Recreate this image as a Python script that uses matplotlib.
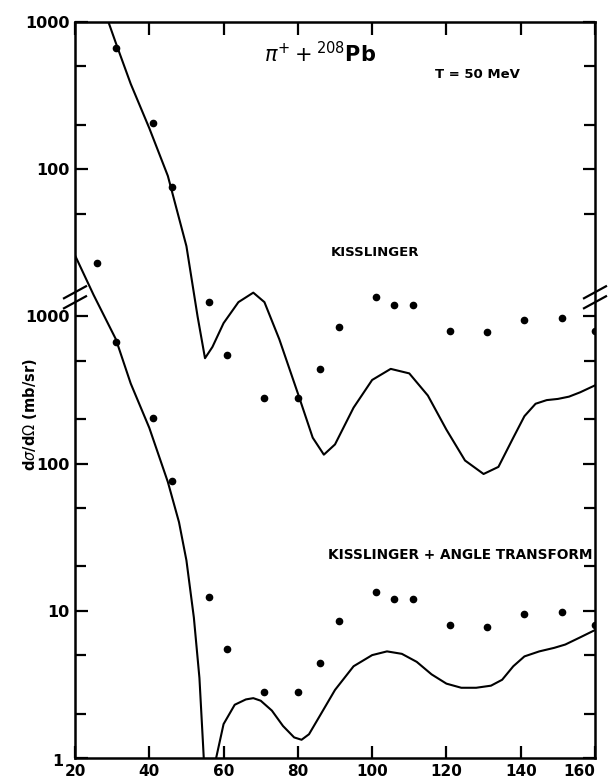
import matplotlib.pyplot as plt

# measured cross sections (mb/sr) - same points used in both panels
ang = [26, 31, 41, 46, 56, 61, 71, 80, 86, 91, 101, 106, 111, 121, 131, 141, 151, 160]
dsig = [2300, 670, 205, 76, 12.5, 5.5, 2.8, 2.8, 4.4, 8.5, 13.5, 12, 12, 8, 7.8, 9.5, 9.8, 8]

# Kisslinger curve (upper panel)
k_ang = [29, 31, 35, 40, 45, 50, 53, 55, 57, 60, 64, 68, 71, 75, 80, 84, 87, 90, 95, 100,
         105, 110, 115, 120, 125, 130, 134, 138, 141, 144, 147, 150, 153, 156, 160]
k_val = [1000, 720, 380, 190, 90, 30, 10, 5.2, 6.2, 9, 12.5, 14.5, 12.5, 7, 3, 1.5, 1.15, 1.35,
         2.4, 3.7, 4.4, 4.1, 2.9, 1.7, 1.05, 0.85, 0.95, 1.5, 2.1, 2.55, 2.7, 2.75, 2.85, 3.05, 3.4]

# Kisslinger + angle transform (lower panel)
kt_ang = [20, 25, 31, 35, 40, 45, 48, 50, 52, 53.5, 54.5, 55.5, 57, 58, 60, 63, 66, 68, 70,
          73, 76, 79, 81, 83, 86, 90, 95, 100, 104, 108, 112, 116, 120, 124, 128, 132, 135,
          138, 141, 145, 149, 152, 156, 160]
kt_val = [2600, 1400, 700, 350, 175, 75, 40, 22, 9, 3.5, 1.2, 0.4, 0.4, 1.0, 1.7, 2.3, 2.5,
          2.55, 2.45, 2.1, 1.65, 1.38, 1.33, 1.45, 1.95, 2.9, 4.2, 5.0, 5.3, 5.1, 4.5, 3.7, 3.2,
          3.0, 3.0, 3.1, 3.4, 4.2, 4.9, 5.3, 5.6, 5.9, 6.6, 7.4]

shift = 100  # upper panel sits two decades higher

ylabels = ['', '10', '100', '1000', '100', '1000']

fig = plt.figure(figsize=(6.08, 7.82), dpi=100)
ax = fig.add_axes([75/608, 24/782, 520/608, 736/782])

ax.plot(k_ang, [v*shift for v in k_val], color='black', lw=1.5)
ax.plot(kt_ang, kt_val, color='black', lw=1.5)
ax.plot(ang, [v*shift for v in dsig], 'o', color='black', ms=4.5)
ax.plot(ang, dsig, 'o', color='black', ms=4.5)

ax.set_yscale('log')
ax.set_xlim(20, 160)
ax.set_ylim(1, 1e5)

ax.set_xticks(range(20, 161, 20))
ax.set_xticklabels([str(t) for t in range(20, 161, 20)])
ax.set_yticks([1, 10, 100, 1000, 1e4, 1e5])
ax.set_yticklabels(ylabels)
minors = [2, 5, 20, 50, 200, 500, 5000, 2e4, 5e4]
ax.set_yticks(minors, minor=True)
ax.set_yticklabels([], minor=True)
ax.tick_params(which='both', direction='in', top=True, right=True, width=1.6,
               labelsize=11.5, pad=4)
ax.tick_params(axis='x', labelsize=11)
ax.tick_params(which='major', length=9)
ax.tick_params(which='minor', length=8)
for lab in ax.get_xticklabels() + ax.get_yticklabels():
    lab.set_fontweight('bold')
ax.get_xticklabels()[-1].set_horizontalalignment('right')
ax.get_xticklabels()[-1].set_x(160)
for s in ax.spines.values():
    s.set_linewidth(1.8)

# axis break marks
yb = 0.626
dx, dy = 11/520, 5/736
for xs in (0, 1):
    ax.plot([xs - dx, xs + dx], [yb - 1.2*dy, yb + 0.2*dy], transform=ax.transAxes,
            color='white', lw=6, clip_on=False, solid_capstyle='butt')
    for off in (-dy, dy):
        ax.plot([xs - dx, xs + dx], [yb + off - 1.2*dy, yb + off + 1.2*dy],
                transform=ax.transAxes, color='black', lw=1.6, clip_on=False)

fig.text(58/608, 1 - 761/782, '1', ha='center', va='center', fontsize=11.5,
         fontweight='bold')
fig.text(320/608, 1 - 54/782, r'$\pi^{+}+{}^{208}$Pb', ha='center', va='center',
         fontsize=15, fontweight='bold')
fig.text(477/608, 1 - 75/782, 'T = 50 MeV', ha='center', va='center',
         fontsize=9.5, fontweight='bold')
fig.text(375/608, 1 - 252/782, 'KISSLINGER', ha='center', va='center',
         fontsize=9.5, fontweight='bold')
ax.text(159.3, 24, 'KISSLINGER + ANGLE TRANSFORM', ha='right', va='center',
        fontsize=9.8, fontweight='bold')
fig.text(30/608, 1 - 415/782, r'd$\sigma$/d$\Omega$ (mb/sr)', rotation=90,
         ha='center', va='center', fontsize=10.5, fontweight='bold')

fig.savefig('out.png', dpi=100)
